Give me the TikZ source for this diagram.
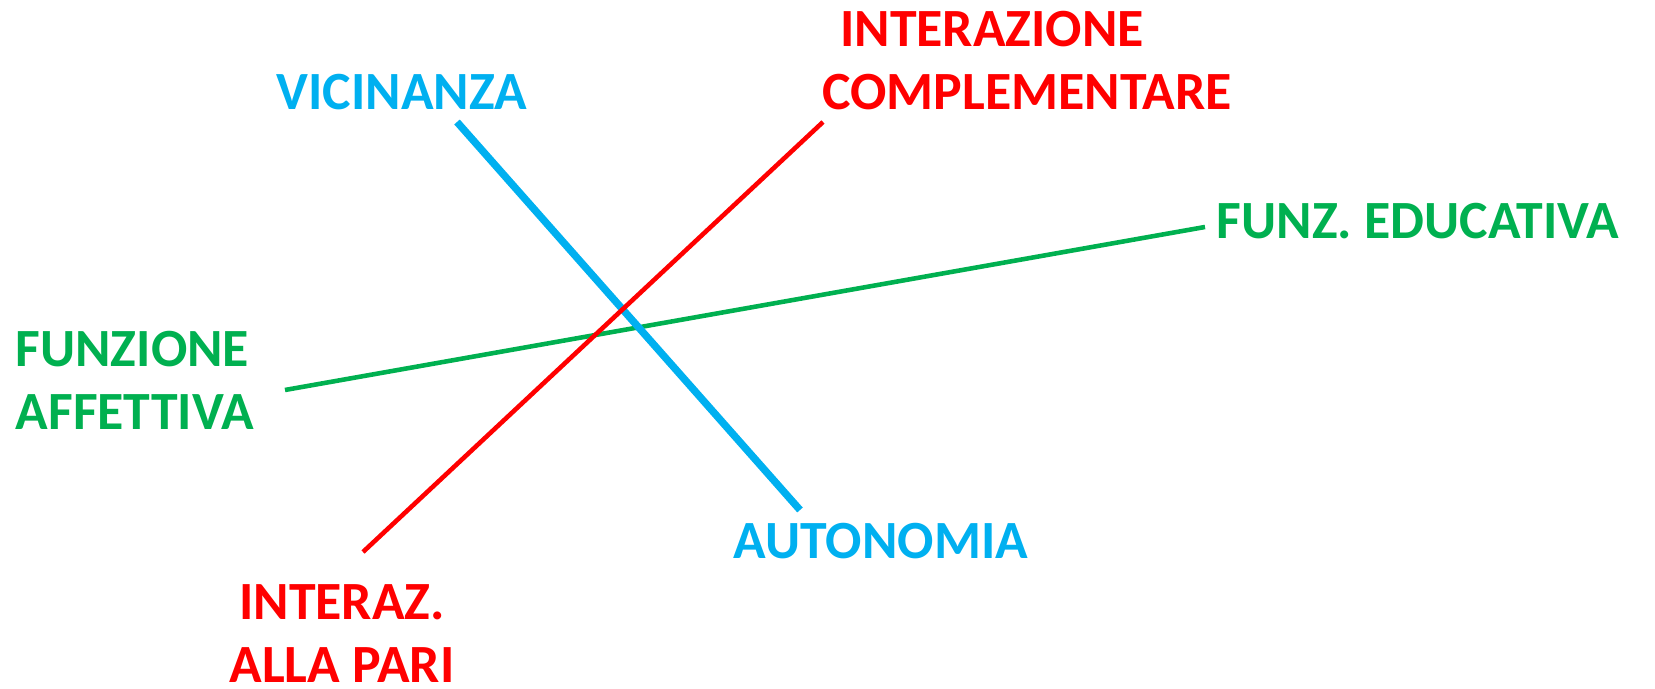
\documentclass[tikz,border=0pt]{standalone}
\usepackage{fontspec}
\setmainfont{Carlito}
\definecolor{cyanb}{RGB}{0,176,240}
\definecolor{redr}{RGB}{255,0,0}
\definecolor{greeng}{RGB}{0,176,80}
\tikzset{lbl/.style={font=\fontsize{15.3}{17.9}\selectfont\bfseries, inner sep=0pt, align=center}}
\begin{document}
\begin{tikzpicture}[x=0.01cm, y=-0.01cm]
\useasboundingbox (0,0) rectangle (1655,689);
\node[lbl, text=cyanb] (VIC) at (402,92) {VICINANZA};
\node[lbl, text=cyanb] (AUT) at (881,541) {AUTONOMIA};
\node[lbl, text=redr] (IC) at (1027,61) {INTERAZIONE\hspace*{1.3em}\\COMPLEMENTARE};
\node[lbl, text=redr] (IP) at (342,634) {INTERAZ.\\ALLA PARI};
\node[lbl, text=greeng] (FE) at (1418,221) {FUNZ. EDUCATIVA};
\node[lbl, text=greeng, anchor=west, align=left] (FA) at (15,380) {FUNZIONE\\AFFETTIVA};
% line ends
\coordinate (v) at (457,122); \coordinate (a) at (800,510);
\coordinate (c) at (823,122); \coordinate (p) at (363,552);
\coordinate (e) at (1205,227); \coordinate (f) at (285,390);
\draw[greeng, line width=1.3pt] (e) -- (f);
\draw[cyanb, line width=2.1pt] (v) -- (a);
\draw[redr, line width=1.3pt] (c) -- (p);
\end{tikzpicture}
\end{document}
